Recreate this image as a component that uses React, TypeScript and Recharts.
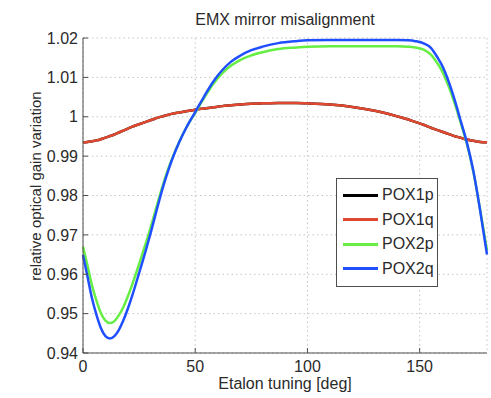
import { LineChart, Line, XAxis, YAxis, CartesianGrid } from "recharts";

const angles = [0, 2, 4, 6, 8, 10, 12, 14, 16, 18, 20, 22, 25, 28, 30, 32, 34, 36, 38, 40, 43, 46, 50, 54, 58, 62, 66, 70, 75, 80, 87, 95, 100, 110, 120, 130, 140, 145, 148, 152, 155, 158, 160, 163, 166, 168, 171, 174, 177, 180];

const pox1q = [0.9935, 0.9936, 0.9938, 0.994, 0.9943, 0.9947, 0.9951, 0.9955, 0.996, 0.9965, 0.997, 0.9975, 0.9981, 0.9987, 0.9991, 0.9995, 0.9999, 1.0002, 1.0005, 1.0008, 1.0011, 1.0014, 1.0018, 1.0021, 1.0024, 1.0027, 1.0029, 1.0031, 1.0033, 1.0034, 1.0035, 1.0035, 1.0034, 1.0031, 1.0025, 1.0015, 1.0001, 0.9993, 0.9987, 0.9979, 0.9972, 0.9966, 0.9962, 0.9956, 0.995, 0.9947, 0.9942, 0.9939, 0.9936, 0.9935];

// POX1p sits under POX1q in the picture
const pox1p = [0.9935, 0.9936, 0.9938, 0.994, 0.9943, 0.9947, 0.9951, 0.9955, 0.996, 0.9965, 0.997, 0.9975, 0.9981, 0.9987, 0.9991, 0.9995, 0.9999, 1.0002, 1.0005, 1.0008, 1.0011, 1.0014, 1.0018, 1.0021, 1.0024, 1.0027, 1.0029, 1.0031, 1.0033, 1.0034, 1.0035, 1.0035, 1.0034, 1.0031, 1.0025, 1.0015, 1.0001, 0.9993, 0.9987, 0.9979, 0.9972, 0.9966, 0.9962, 0.9956, 0.995, 0.9947, 0.9942, 0.9939, 0.9936, 0.9935];

const pox2p = [0.967, 0.9622, 0.9572, 0.9533, 0.9501, 0.9482, 0.9476, 0.9481, 0.9496, 0.9517, 0.9544, 0.9575, 0.9626, 0.9679, 0.9716, 0.9756, 0.9796, 0.9834, 0.9868, 0.9898, 0.9938, 0.9972, 1.001, 1.0048, 1.0083, 1.011, 1.013, 1.0144, 1.0156, 1.0164, 1.0172, 1.0176, 1.0178, 1.0179, 1.0179, 1.0179, 1.0179, 1.0178, 1.0176, 1.017, 1.0158, 1.0135, 1.0116, 1.0076, 1.0027, 0.999, 0.9932, 0.9858, 0.9762, 0.966];

const pox2q = [0.9649, 0.9594, 0.9539, 0.9497, 0.9463, 0.9443, 0.9437, 0.9443, 0.9459, 0.9483, 0.9513, 0.9547, 0.9603, 0.9661, 0.9702, 0.9745, 0.9788, 0.9828, 0.9864, 0.9896, 0.9937, 0.9972, 1.0012, 1.0052, 1.0089, 1.0118, 1.014, 1.0155, 1.0169, 1.0178, 1.0187, 1.0192, 1.0194, 1.0195, 1.0195, 1.0195, 1.0195, 1.0194, 1.0192, 1.0186, 1.0175, 1.015, 1.013, 1.0088, 1.0035, 0.9995, 0.9935, 0.986, 0.976, 0.965];

const xTicks = [0, 50, 100, 150];
const yTicks = [0.94, 0.95, 0.96, 0.97, 0.98, 0.99, 1, 1.01, 1.02];

const series = [
  { key: "POX1p", color: "#000000" },
  { key: "POX1q", color: "#e0482f" },
  { key: "POX2p", color: "#66ee44" },
  { key: "POX2q", color: "#1f4fff" },
];

const rows = angles.map((deg, i) => ({
  deg,
  POX1p: pox1p[i],
  POX1q: pox1q[i],
  POX2p: pox2p[i],
  POX2q: pox2q[i],
}));

const FONT = "'Liberation Sans', Arial, Helvetica, sans-serif";
const AXIS = "#4d4d4d";
const TEXT = "#2a2a2a";
const tickStyle = { fontSize: 16, fill: TEXT, fontFamily: FONT };

function LegendBox() {
  return (
    <div
      style={{
        position: "absolute",
        left: 336,
        top: 178,
        width: 100,
        border: `1.5px solid ${AXIS}`,
        background: "#fff",
        padding: "4px 0 5px 0",
        fontFamily: FONT,
        fontSize: 16,
        color: TEXT,
      }}
    >
      {series.map((s) => (
        <div key={s.key} style={{ display: "flex", alignItems: "center", height: 24.5 }}>
          <div style={{ width: 35, height: 3, background: s.color, marginLeft: 6, marginRight: 4 }} />
          <span>{s.key}</span>
        </div>
      ))}
    </div>
  );
}

export default function App() {
  return (
    <div style={{ position: "absolute", left: 0, top: 0, width: 491, height: 398, background: "#fff" }}>
      <div
        style={{
          position: "absolute",
          left: 0,
          width: 570,
          top: 10,
          textAlign: "center",
          fontFamily: FONT,
          fontSize: 16,
          color: TEXT,
          lineHeight: "20px",
        }}
      >
        EMX mirror misalignment
      </div>
      <LineChart width={491} height={398} data={rows} margin={{ top: 38, right: 4, bottom: 0, left: 0 }}>
        <CartesianGrid stroke="#c4c4c4" strokeDasharray="1.5 3" />
        <XAxis
          dataKey="deg"
          type="number"
          domain={[0, 180]}
          ticks={xTicks}
          height={45}
          tickSize={-5}
          tickMargin={13}
          stroke={AXIS}
          tick={tickStyle}
          label={{
            content: () => (
              <text x={285} y={389} textAnchor="middle" fontSize={16} fontFamily={FONT} fill={TEXT}>
                Etalon tuning [deg]
              </text>
            ),
          }}
        />
        <XAxis xAxisId="top" orientation="top" dataKey="deg" type="number" domain={[0, 180]} ticks={xTicks} height={0} tickSize={-5} stroke={AXIS} tickFormatter={() => ""} />
        <YAxis
          type="number"
          domain={[0.94, 1.02]}
          ticks={yTicks}
          width={83}
          tickSize={-5}
          tickMargin={10}
          stroke={AXIS}
          tick={tickStyle}
          tickFormatter={(v: number) => String(+v.toFixed(2))}
          label={{
            content: () => (
              <text x={35} y={186} transform="rotate(-90 35 186)" textAnchor="middle" dominantBaseline="central" fontSize={15} fontFamily={FONT} fill={TEXT}>
                relative optical gain variation
              </text>
            ),
          }}
        />
        <YAxis yAxisId="right" orientation="right" type="number" domain={[0.94, 1.02]} ticks={yTicks} width={0} tickSize={-5} stroke={AXIS} tickFormatter={() => ""} />
        {series.map((s) => (
          <Line
            key={s.key}
            dataKey={s.key}
            type="monotone"
            stroke={s.color}
            strokeWidth={2.5}
            dot={false}
            isAnimationActive={false}
          />
        ))}
      </LineChart>
      <LegendBox />
    </div>
  );
}
